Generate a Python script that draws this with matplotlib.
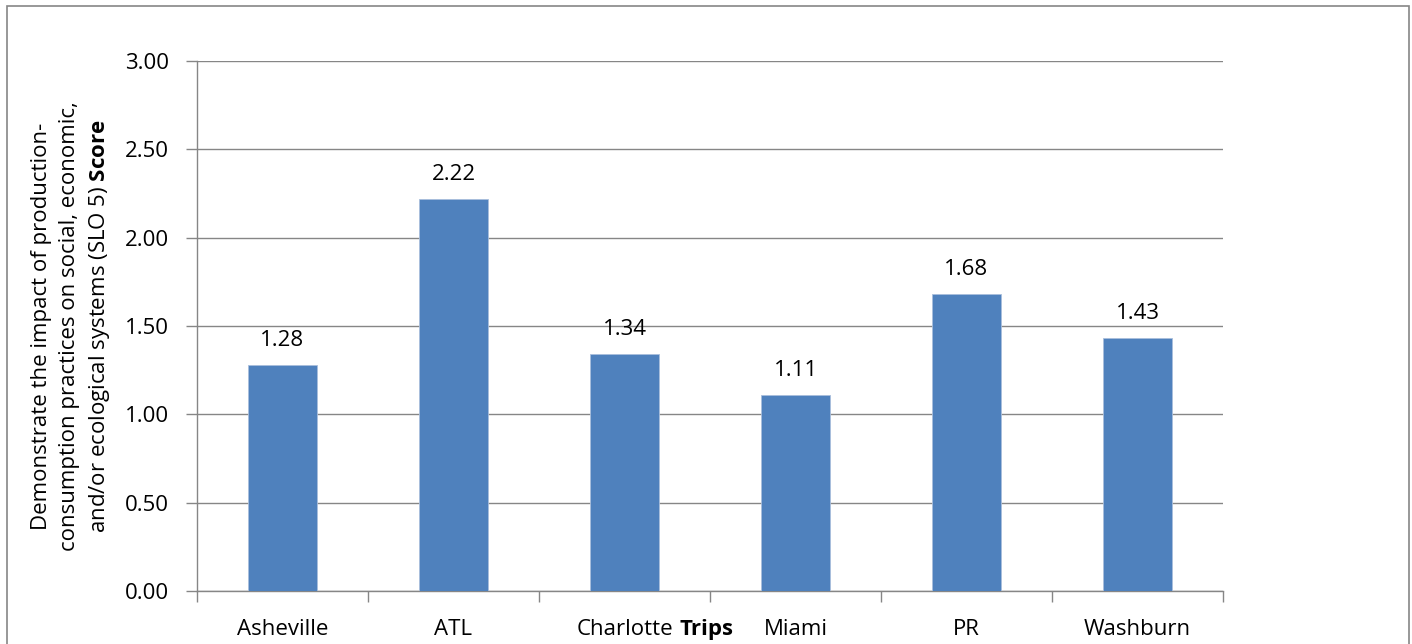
import matplotlib
matplotlib.use("Agg")
import matplotlib.pyplot as plt
from matplotlib.patches import Rectangle
import numpy as np

categories = ["Asheville", "ATL", "Charlotte", "Miami", "PR", "Washburn"]
scores = [1.28, 2.22, 1.34, 1.11, 1.68, 1.43]
yticks = [0.0, 0.5, 1.0, 1.5, 2.0, 2.5, 3.0]
xlabel = "Trips"
ylabel = ("Demonstrate the impact of production-\nconsumption practices on social, economic,\n"
          "and/or ecological systems (SLO 5) $\\bf{Score}$")

FONT = "Open Sans"
plt.rcParams["font.family"] = [FONT, "DejaVu Sans"]
plt.rcParams["mathtext.fontset"] = "custom"
plt.rcParams["mathtext.rm"] = FONT
plt.rcParams["mathtext.bf"] = FONT + ":bold"

W, H = 1412, 644
fig = plt.figure(figsize=(W / 100, H / 100), dpi=100)
AX_L, AX_R, AX_T, AX_B = 197, 1223, 61, 591
ax = fig.add_axes([AX_L / W, 1 - AX_B / H, (AX_R - AX_L) / W, (AX_B - AX_T) / H])
ax_h = AX_B - AX_T

gray = "#868686"
fs = 16
x = np.arange(len(categories))
ax.bar(x, scores, width=0.40, color="#4F81BD", edgecolor="#A9BEDC",
       linewidth=0.6, zorder=3)

ax.set_xlim(-0.5, len(categories) - 0.5)
ax.set_ylim(0, 3.0)
ax.set_yticks(yticks)
ax.set_yticklabels([f"{v:.2f}" for v in yticks], fontsize=fs)
ax.yaxis.grid(True, color=gray, linewidth=1.0, zorder=0)
ax.set_axisbelow(True)

ax.set_xticks(np.arange(len(categories) + 1) - 0.5)
ax.set_xticklabels([])
ax.tick_params(axis="x", which="major", length=8, color=gray, width=1)
ax.tick_params(axis="y", length=8, color=gray, width=1, pad=12)

for s in ["top", "right"]:
    ax.spines[s].set_visible(False)
for s in ["left", "bottom"]:
    ax.spines[s].set_color(gray)
    ax.spines[s].set_linewidth(1.0)

base_y = -(635 - AX_B) / ax_h
for xi, name in zip(x, categories):
    ax.text(xi, base_y, name, transform=ax.get_xaxis_transform(),
            ha="center", va="baseline", fontsize=fs)
ax.text(0.5 + 0.5 * (706 - 710) / (AX_R - AX_L) * 2, base_y, xlabel, transform=ax.transAxes,
        ha="center", va="baseline", fontsize=fs, fontweight="bold")

for xi, v in zip(x, scores):
    ax.annotate(f"{v:.2f}", (xi, v), xytext=(0, 13.7), textcoords="offset points",
                ha="center", va="baseline", fontsize=fs)

ax.set_ylabel(ylabel, fontsize=fs, linespacing=1.4)
ax.yaxis.set_label_coords((112 - AX_L) / (AX_R - AX_L), 0.5)

fig.patches.append(Rectangle((7 / W, -0.02), 1402 / W, 1.02 - 6 / H,
                             transform=fig.transFigure, fill=False,
                             edgecolor=gray, linewidth=1.2))

fig.savefig("out.png", dpi=100, facecolor="white")
